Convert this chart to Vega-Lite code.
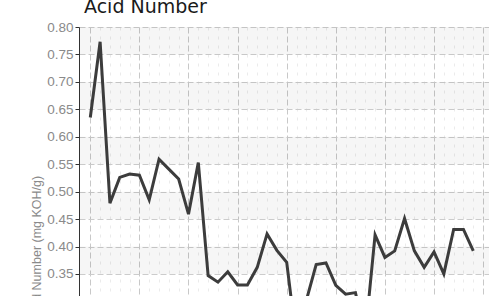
{
  "$schema": "https://vega.github.io/schema/vega-lite/v6.json",
  "width": 410,
  "height": 439,
  "padding": {"left": 30, "top": -2, "right": 0, "bottom": 0},
  "background": "white",
  "title": {
    "text": "Acid Number",
    "anchor": "start",
    "frame": "group",
    "dx": 5,
    "dy": 0,
    "font": "DejaVu Sans",
    "fontSize": 19,
    "fontWeight": "normal",
    "color": "#1a1a1a",
    "offset": 3
  },
  "config": {
    "view": {"stroke": null},
    "axis": {"labelFont": "Liberation Sans", "titleFont": "Liberation Sans"}
  },
  "datasets": {
    "series": [
      {"k": 0, "v": 0.635}, {"k": 1, "v": 0.773}, {"k": 2, "v": 0.479}, {"k": 3, "v": 0.526},
      {"k": 4, "v": 0.532}, {"k": 5, "v": 0.530}, {"k": 6, "v": 0.485}, {"k": 7, "v": 0.559},
      {"k": 8, "v": 0.541}, {"k": 9, "v": 0.523}, {"k": 10, "v": 0.459}, {"k": 11, "v": 0.553},
      {"k": 12, "v": 0.347}, {"k": 13, "v": 0.335}, {"k": 14, "v": 0.354}, {"k": 15, "v": 0.330},
      {"k": 16, "v": 0.330}, {"k": 17, "v": 0.362}, {"k": 18, "v": 0.423}, {"k": 19, "v": 0.393},
      {"k": 20, "v": 0.371}, {"k": 21, "v": 0.226}, {"k": 22, "v": 0.302}, {"k": 23, "v": 0.367},
      {"k": 24, "v": 0.370}, {"k": 25, "v": 0.329}, {"k": 26, "v": 0.313}, {"k": 27, "v": 0.316},
      {"k": 28, "v": 0.238}, {"k": 29, "v": 0.421}, {"k": 30, "v": 0.380}, {"k": 31, "v": 0.392},
      {"k": 32, "v": 0.451}, {"k": 33, "v": 0.392}, {"k": 34, "v": 0.362}, {"k": 35, "v": 0.390},
      {"k": 36, "v": 0.350}, {"k": 37, "v": 0.431}, {"k": 38, "v": 0.431}, {"k": 39, "v": 0.392}
    ],
    "bands": [
      {"lo": 0.75, "hi": 0.80}, {"lo": 0.65, "hi": 0.70}, {"lo": 0.55, "hi": 0.60},
      {"lo": 0.45, "hi": 0.50}, {"lo": 0.35, "hi": 0.40}, {"lo": 0.25, "hi": 0.30},
      {"lo": 0.15, "hi": 0.20}, {"lo": 0.05, "hi": 0.10}
    ]
  },
  "layer": [
    {
      "data": {"name": "bands"},
      "mark": {"type": "rect", "fill": "#000000", "opacity": 0.035},
      "encoding": {
        "y": {
          "field": "lo",
          "type": "quantitative",
          "scale": {"domain": [0, 0.8], "nice": false, "zero": false},
          "title": "Acid Number (mg KOH/g)",
          "axis": {
            "values": [0, 0.05, 0.1, 0.15, 0.2, 0.25, 0.3, 0.35, 0.4, 0.45, 0.5, 0.55, 0.6, 0.65, 0.7, 0.75, 0.8],
            "tickCount": 40,
            "format": ".2f",
            "labelOverlap": false,
            "titleFontSize": 12.5,
            "titleFontWeight": "normal",
            "titleColor": "#8a8a8a",
            "titlePadding": 3,
            "labelFontSize": 13.5,
            "labelColor": "#8a8a8a",
            "labelPadding": 2,
            "tickSize": 4,
            "tickColor": "#333333",
            "domainColor": "#333333",
            "grid": true,
            "gridColor": "#cccccc",
            "gridDash": [6, 3]
          }
        },
        "y2": {"field": "hi"}
      }
    },
    {
      "data": {"name": "series"},
      "mark": {"type": "line", "color": "#3c3c3c", "strokeWidth": 3, "strokeJoin": "miter"},
      "encoding": {
        "x": {
          "field": "k",
          "type": "quantitative",
          "scale": {"domain": [-1.15, 40.6], "nice": false, "zero": false},
          "axis": {
            "values": [0,1,2,3,4,5,6,7,8,9,10,11,12,13,14,15,16,17,18,19,20,21,22,23,24,25,26,27,28,29,30,31,32,33,34,35,36,37,38,39,40],
            "tickCount": 100,
            "labels": false,
            "ticks": false,
            "domain": false,
            "title": null,
            "grid": true,
            "gridColor": {"condition": {"test": "datum.value % 5 === 0", "value": "#c8c8c8"}, "value": "#ebebeb"},
            "gridDash": {"condition": {"test": "datum.value % 5 === 0", "value": [6, 3]}, "value": [3, 6]},
            "gridWidth": 1
          }
        },
        "y": {
          "field": "v",
          "type": "quantitative",
          "scale": {"domain": [0, 0.8], "nice": false, "zero": false},
          "title": "Acid Number (mg KOH/g)",
          "axis": {
            "values": [0, 0.05, 0.1, 0.15, 0.2, 0.25, 0.3, 0.35, 0.4, 0.45, 0.5, 0.55, 0.6, 0.65, 0.7, 0.75, 0.8],
            "tickCount": 40,
            "format": ".2f",
            "labelOverlap": false,
            "titleFontSize": 12.5,
            "titleFontWeight": "normal",
            "titleColor": "#8a8a8a",
            "titlePadding": 3,
            "labelFontSize": 13.5,
            "labelColor": "#8a8a8a",
            "labelPadding": 2,
            "tickSize": 4,
            "tickColor": "#333333",
            "domainColor": "#333333",
            "grid": true,
            "gridColor": "#cccccc",
            "gridDash": [6, 3]
          }
        }
      }
    }
  ]
}
